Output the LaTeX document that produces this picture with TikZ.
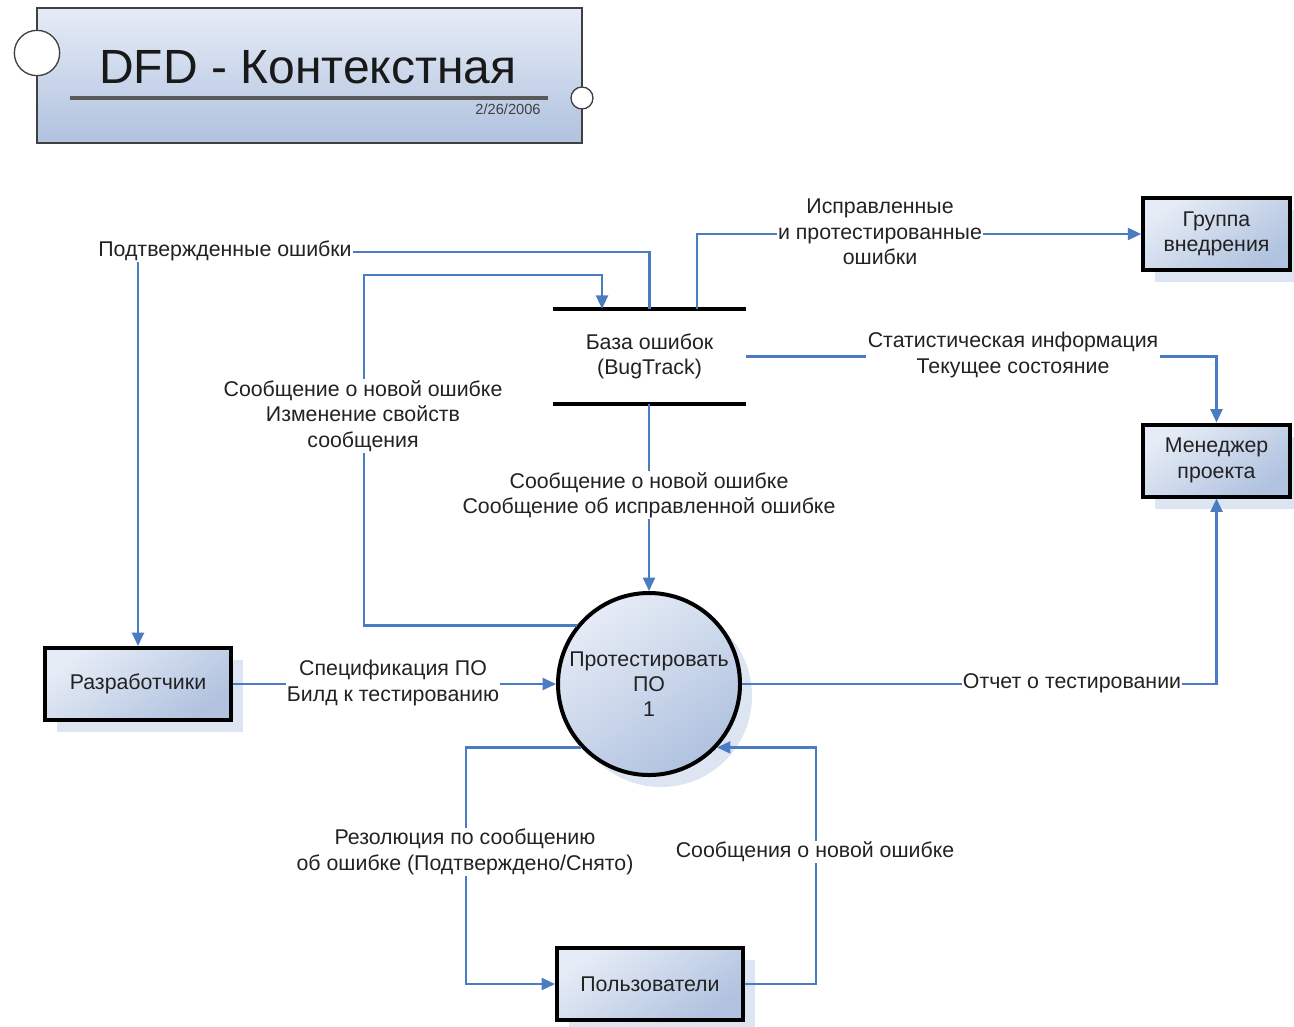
\documentclass[tikz,border=0pt]{standalone}
\usepackage{fontspec}
\setmainfont{Liberation Sans}
\usetikzlibrary{arrows.meta,shadows,calc}
\definecolor{flowc}{HTML}{4A7CC3}
\definecolor{gradA}{HTML}{E6ECF6}
\definecolor{gradB}{HTML}{B0C2DF}
\definecolor{shadc}{HTML}{DDE5F2}
\definecolor{txt}{HTML}{222222}
\begin{document}
\begin{tikzpicture}[x=0.75pt,y=-0.75pt,
  flow/.style={draw=flowc, line width=1.6pt, -{Triangle[length=10pt,width=9pt]}},
  lbl/.style={fill=white, inner sep=1pt, align=center, text=txt, font=\fontsize{16}{19}\selectfont},
  gradfill/.style={top color=gradA, bottom color=gradB, shading angle=35},
  ent/.style={draw=black, line width=3pt, gradfill, align=center, text=txt,
    font=\fontsize{16}{19}\selectfont, inner sep=0pt,
    drop shadow={shadow xshift=9pt, shadow yshift=-9pt, fill=shadc, opacity=1}},
  storeline/.style={draw=black, line width=3pt},
]
\fill[white] (0,0) rectangle (1294,1026);
\useasboundingbox (0,0) rectangle (1294,1026);

% title block
\node[draw=black!75, line width=1.2pt, top color=gradA, bottom color=gradB,
  minimum width=408.75pt, minimum height=101.25pt, inner sep=0pt] (tb) at (309.5,75.5) {};
\node[draw=black!75, line width=1pt, fill=white, circle, minimum size=34pt, inner sep=0pt] (tc1) at (37,53) {};
\node[draw=black!75, line width=1pt, fill=white, circle, minimum size=16.5pt, inner sep=0pt] (tc2) at (582,98) {};
\node[text=black!90, font=\fontsize{36}{42}\selectfont, inner sep=0pt] (tt) at (308,67) {DFD - Контекстная};
\coordinate (tl1) at (70,98);
\coordinate (tl2) at (548,98);
\draw[black!65, line width=2.4pt] (tl1) -- (tl2);
\node[text=black!75, font=\fontsize{11}{13}\selectfont, inner sep=0pt] (td) at (508,109) {2/26/2006};

% entities
\node[ent, minimum width=110pt, minimum height=54pt] (gr) at (1216.5,234) {Группа\\внедрения};
\node[ent, minimum width=110pt, minimum height=54pt] (mg) at (1216.5,460.5) {Менеджер\\проекта};
\node[ent, minimum width=139.5pt, minimum height=54pt] (dev) at (138,684) {Разработчики};
\node[ent, minimum width=139.5pt, minimum height=54pt] (us) at (650,984) {Пользователи};

% process
\node[ent, circle, minimum size=136.5pt] (pt) at (649,684) {Протестировать\\ПО\\1};

% data store
\node[minimum width=144.75pt, minimum height=71.25pt, inner sep=0pt, align=center,
  text=txt, font=\fontsize{16}{19}\selectfont] (ds) at (649.5,356.5) {База ошибок\\(BugTrack)};
\draw[storeline] (ds.north west) -- (ds.north east);
\draw[storeline] (ds.south west) -- (ds.south east);

% helper coordinates
\coordinate (x602) at (602,0);
\coordinate (x697) at (697,0);
\coordinate (x816) at (816,0);
\coordinate (b1) at (138,252);
\coordinate (b2) at (364,275);
\coordinate (b8) at (466,984);

% connectors
\draw[flow] (ds.north) |- (b1) -- (dev.north);
\draw[flow] (pt.141) -| (b2) -| (ds.north -| x602);
\draw[flow] (ds.north -| x697) |- (gr.west);
\draw[flow] (ds.east) -| (mg.north);
\draw[flow] (pt.north |- ds.south) -- (pt.north);
\draw[flow] (dev.east) -- (pt.west);
\draw[flow] (pt.east) -| (mg.south);
\draw[flow] (pt.223) -| (b8) -- (us.west);
\draw[flow] (us.east) -| (pt.317 -| x816) -- (pt.317);

% labels
\node[lbl] (l1) at (225,251) {Подтвержденные ошибки};
\node[lbl] (l2) at (363,416) {Сообщение о новой ошибке\\Изменение свойств\\сообщения};
\node[lbl] (l3) at (880,232) {Исправленные\\и протестированные\\ошибки};
\node[lbl] (l4) at (1013,355) {Статистическая информация\\Текущее состояние};
\node[lbl] (l5) at (649,495) {Сообщение о новой ошибке\\Сообщение об исправленной ошибке};
\node[lbl] (l6) at (393,683) {Спецификация ПО\\Билд к тестированию};
\node[lbl] (l7) at (1072,683) {Отчет о тестировании};
\node[lbl] (l8) at (465,852) {Резолюция по сообщению\\об ошибке (Подтверждено/Снято)};
\node[lbl] (l9) at (815,852) {Сообщения о новой ошибке};
\end{tikzpicture}
\end{document}
